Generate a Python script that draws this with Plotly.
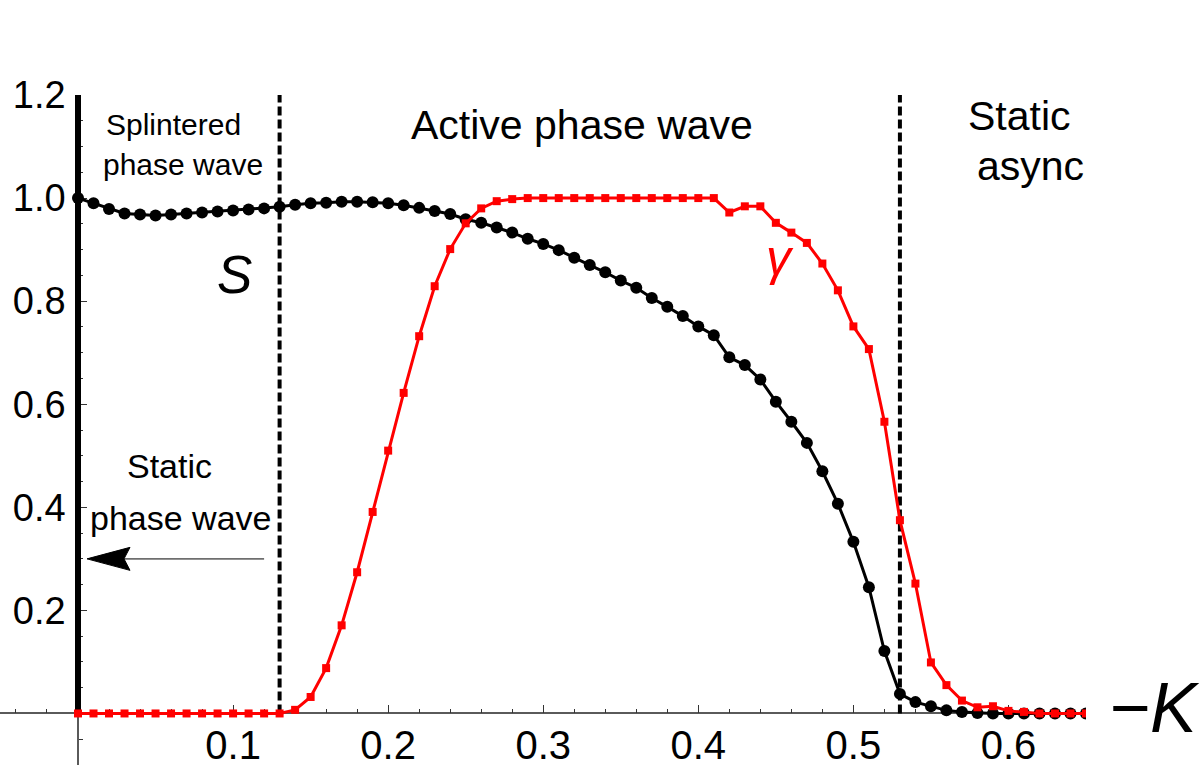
import numpy as np
import plotly.graph_objects as go

# ---------------- data ----------------
K = [round(0.01 * i, 2) for i in range(66)]  # -K values 0.00 ... 0.65

S_values = [
    1.000, 0.990, 0.979, 0.970, 0.968, 0.966, 0.968, 0.970, 0.972, 0.974,
    0.976, 0.978, 0.980, 0.983, 0.987, 0.990, 0.991, 0.993, 0.993, 0.992,
    0.990, 0.986, 0.981, 0.975, 0.969, 0.959, 0.952, 0.943, 0.933, 0.921,
    0.911, 0.899, 0.884, 0.870, 0.856, 0.840, 0.826, 0.806, 0.789, 0.771,
    0.751, 0.734, 0.691, 0.676, 0.648, 0.605, 0.566, 0.525, 0.470, 0.407,
    0.333, 0.245, 0.121, 0.038, 0.022, 0.014, 0.006, 0.003, 0.001, 0.000,
    0.000, 0.000, 0.000, 0.000, 0.000, 0.000,
]

gamma_values = [
    0.0, 0.0, 0.0, 0.0, 0.0, 0.0, 0.0, 0.0, 0.0, 0.0,
    0.0, 0.0, 0.0, 0.0, 0.007, 0.032, 0.088, 0.171, 0.274, 0.391,
    0.510, 0.622, 0.732, 0.829, 0.901, 0.951, 0.980, 0.994, 0.998, 1.000,
    1.000, 1.000, 1.000, 1.000, 1.000, 1.000, 1.000, 1.000, 1.000, 1.000,
    1.000, 1.000, 0.972, 0.984, 0.984, 0.952, 0.933, 0.913, 0.873, 0.821,
    0.751, 0.707, 0.566, 0.375, 0.252, 0.099, 0.055, 0.025, 0.012, 0.014,
    0.005, 0.003, 0.0, 0.0, 0.0, 0.0,
]

static_wave_K = [0.0, 0.0]          # thick segment at -K = 0
static_wave_y = [0.0, 1.2]

region_boundaries = [0.13, 0.53]    # dashed separators
boundary_y = [0.0, 1.2]

arrow_y = 0.3
arrow_tail_K = 0.12
arrow_head_K = 0.0

x_tick_vals = [0.1, 0.2, 0.3, 0.4, 0.5, 0.6]
x_tick_text = ["0.1", "0.2", "0.3", "0.4", "0.5", "0.6"]
y_tick_vals = [0.2, 0.4, 0.6, 0.8, 1.0, 1.2]
y_tick_text = ["0.2", "0.4", "0.6", "0.8", "1.0", "1.2"]

# ---------------- layout constants ----------------
X_RANGE = [-0.0503, 0.65]
Y_RANGE = [-0.1, 1.2]
FONT = "Liberation Sans, Arial, sans-serif"
AXIS_GREY = "#5a5a5a"

fig = go.Figure()

# thick vertical segment at K = 0
fig.add_trace(go.Scatter(
    x=static_wave_K, y=static_wave_y, mode="lines",
    line=dict(color="black", width=6), hoverinfo="skip", showlegend=False,
))

# dashed boundaries
for b in region_boundaries:
    fig.add_trace(go.Scatter(
        x=[b, b], y=boundary_y, mode="lines",
        line=dict(color="black", width=4, dash="9px,4px"),
        hoverinfo="skip", showlegend=False,
    ))

# S curve (black circles)
fig.add_trace(go.Scatter(
    x=K, y=S_values, mode="lines+markers",
    line=dict(color="black", width=3),
    marker=dict(symbol="circle", size=12, color="black"),
    showlegend=False, name="S",
))

# gamma curve (red squares)
fig.add_trace(go.Scatter(
    x=K, y=gamma_values, mode="lines+markers",
    line=dict(color="#ff0000", width=3),
    marker=dict(symbol="square", size=8, color="#ff0000"),
    showlegend=False, name="γ",
))

# arrow: thin grey shaft + black head
fig.add_shape(type="line", xref="x", yref="y",
              x0=arrow_head_K + 0.028, x1=arrow_tail_K, y0=arrow_y, y1=arrow_y,
              line=dict(color="#6e6e6e", width=1.6))
fig.add_shape(type="path", xref="x", yref="y",
              xsizemode="pixel", ysizemode="pixel",
              xanchor=arrow_head_K, yanchor=arrow_y,
              path="M 9,0 L 52,11.5 L 46,0 L 52,-11.5 Z",
              fillcolor="black", line=dict(color="black", width=1))

def txt(x, y, s, size, color="black", italic=False, xref="x", yref="y"):
    fig.add_annotation(
        x=x, y=y, xref=xref, yref=yref, text=s, showarrow=False,
        xanchor="center", yanchor="middle",
        font=dict(family=FONT, size=size, color=color,
                  style="italic" if italic else "normal"),
    )

txt(0.0613, 1.143, "Splintered", 30)
txt(0.0677, 1.065, "phase wave", 30)
txt(0.325, 1.142, "Active phase wave", 41)
txt(0.6074, 1.159, "Static", 41)
txt(0.6145, 1.062, "async", 41)
txt(0.0593, 0.480, "Static", 34)
txt(0.0658, 0.379, "phase wave", 34)
txt(0.1012, 0.852, "S", 53, italic=True)
txt(0.4527, 0.883, "γ", 50, color="#ff0000", italic=True)
txt(1.0635, 0.085, "−K", 70, italic=True, xref="paper", yref="paper")

x_minor = [v for v in np.round(np.arange(-0.04, 0.65, 0.02), 2) if round(v * 10, 6) % 1 != 0]
y_minor = [v for v in np.round(np.arange(-0.1, 1.2001, 0.05), 2)]

fig.update_layout(
    width=1200, height=769,
    margin=dict(l=0, r=114, t=95, b=4, autoexpand=False),
    paper_bgcolor="white", plot_bgcolor="white",
    showlegend=False,
    xaxis=dict(
        range=X_RANGE, anchor="free", automargin=False,
        position=(0 - Y_RANGE[0]) / (Y_RANGE[1] - Y_RANGE[0]),
        showgrid=False, zeroline=False, layer="below traces",
        showline=True, linecolor=AXIS_GREY, linewidth=1.5,
        tickmode="array", tickvals=x_tick_vals, ticktext=x_tick_text,
        ticks="inside", ticklen=8, tickwidth=1.3, tickcolor="#333",
        tickfont=dict(family=FONT, size=40, color="black"),
        ticklabelstandoff=-3,
        minor=dict(tickmode="array", tickvals=x_minor, ticks="inside",
                   ticklen=4, tickwidth=1.2, tickcolor="#333", showgrid=False),
    ),
    yaxis=dict(
        range=Y_RANGE, anchor="free", automargin=False,
        position=(0 - X_RANGE[0]) / (X_RANGE[1] - X_RANGE[0]),
        showgrid=False, zeroline=False, layer="below traces",
        showline=True, linecolor=AXIS_GREY, linewidth=1.5,
        tickmode="array", tickvals=y_tick_vals, ticktext=y_tick_text,
        ticks="inside", ticklen=8, tickwidth=1.3, tickcolor="#333",
        tickfont=dict(family=FONT, size=38, color="black"),
        ticklabelstandoff=4,
        minor=dict(tickmode="array", tickvals=y_minor, ticks="inside",
                   ticklen=4, tickwidth=1.2, tickcolor="#333", showgrid=False),
    ),
)

fig.write_html("out.html")
